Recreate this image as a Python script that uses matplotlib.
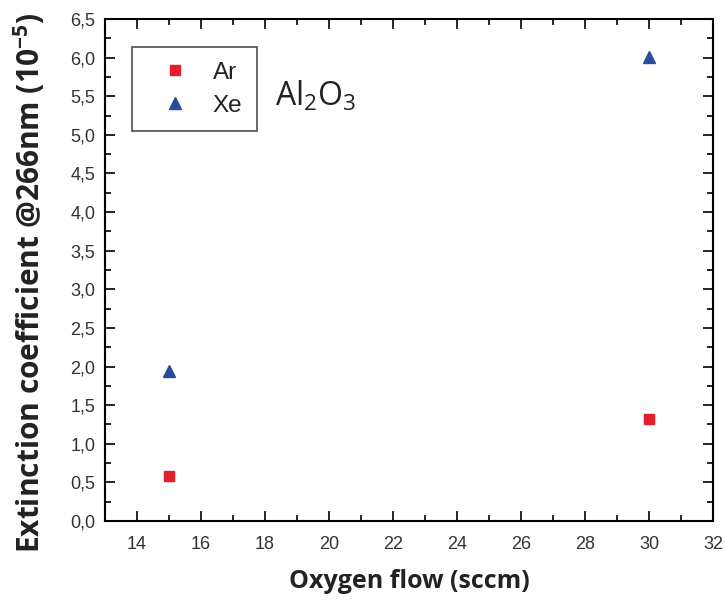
import matplotlib.pyplot as plt
from matplotlib.ticker import MultipleLocator, FuncFormatter

# Oxygen flow (sccm) and extinction coefficient (1e-5)
oxygen_flow = [15, 30]
ar_values = [0.58, 1.32]
xe_values = [1.94, 6.01]

plt.rcParams['font.family'] = ['Liberation Sans', 'DejaVu Sans']
plt.rcParams['mathtext.fontset'] = 'custom'
plt.rcParams['mathtext.rm'] = 'Open Sans'
plt.rcParams['mathtext.it'] = 'Open Sans'
plt.rcParams['mathtext.bf'] = 'Open Sans:bold'

fig = plt.figure(figsize=(7.25, 6.08), dpi=100)
ax = fig.add_axes([0.1448, 0.1431, 0.8386, 0.8257])

ax.plot(oxygen_flow, ar_values, linestyle='none', marker='s', markersize=7,
        color='#e41e2b', label='Ar')
ax.plot(oxygen_flow, xe_values, linestyle='none', marker='^', markersize=8.5,
        color='#2a4b9e', label='Xe')

ax.set_xlim(13, 32)
ax.set_ylim(0, 6.5)
ax.xaxis.set_major_locator(MultipleLocator(2))
ax.xaxis.set_minor_locator(MultipleLocator(1))
ax.yaxis.set_major_locator(MultipleLocator(0.5))
ax.yaxis.set_minor_locator(MultipleLocator(0.25))
ax.yaxis.set_major_formatter(FuncFormatter(lambda v, p: f"{v:.1f}".replace('.', ',')))

ax.tick_params(which='both', direction='in', top=True, right=True,
               labelsize=13, labelcolor='#333333', width=1.2)
ax.tick_params(which='major', length=7)
ax.tick_params(which='minor', length=4)
ax.tick_params(axis='x', pad=11)
ax.tick_params(axis='y', pad=7)
for s in ax.spines.values():
    s.set_linewidth(1.5)

fig.text(0.564, 1 - 582 / 608, 'Oxygen flow (sccm)', fontsize=18, fontweight='bold',
         family='Open Sans', ha='center', va='center', color='#222222')
fig.text(29 / 725, 1 - 283 / 608, 'Extinction coefficient @266nm (10$^{\\mathbf{-5}}$)',
         fontsize=21.5, fontweight='bold', family='Open Sans', rotation=90,
         ha='center', va='center', color='#222222')

leg = ax.legend(loc='upper left', bbox_to_anchor=(0.044, 0.944), fontsize=17.5,
                frameon=True, fancybox=False, edgecolor='#222222',
                borderpad=0.6, handletextpad=0.33, labelspacing=0.45,
                handlelength=2.4, borderaxespad=0)
leg.get_frame().set_linewidth(1.2)
for t in leg.get_texts():
    t.set_color('#222222')

ax.text(0.279, 0.846, 'Al$_2$O$_3$', transform=ax.transAxes, fontsize=23,
        family='Open Sans', ha='left', va='center', color='#222222')

fig.savefig('out.png', dpi=100)
